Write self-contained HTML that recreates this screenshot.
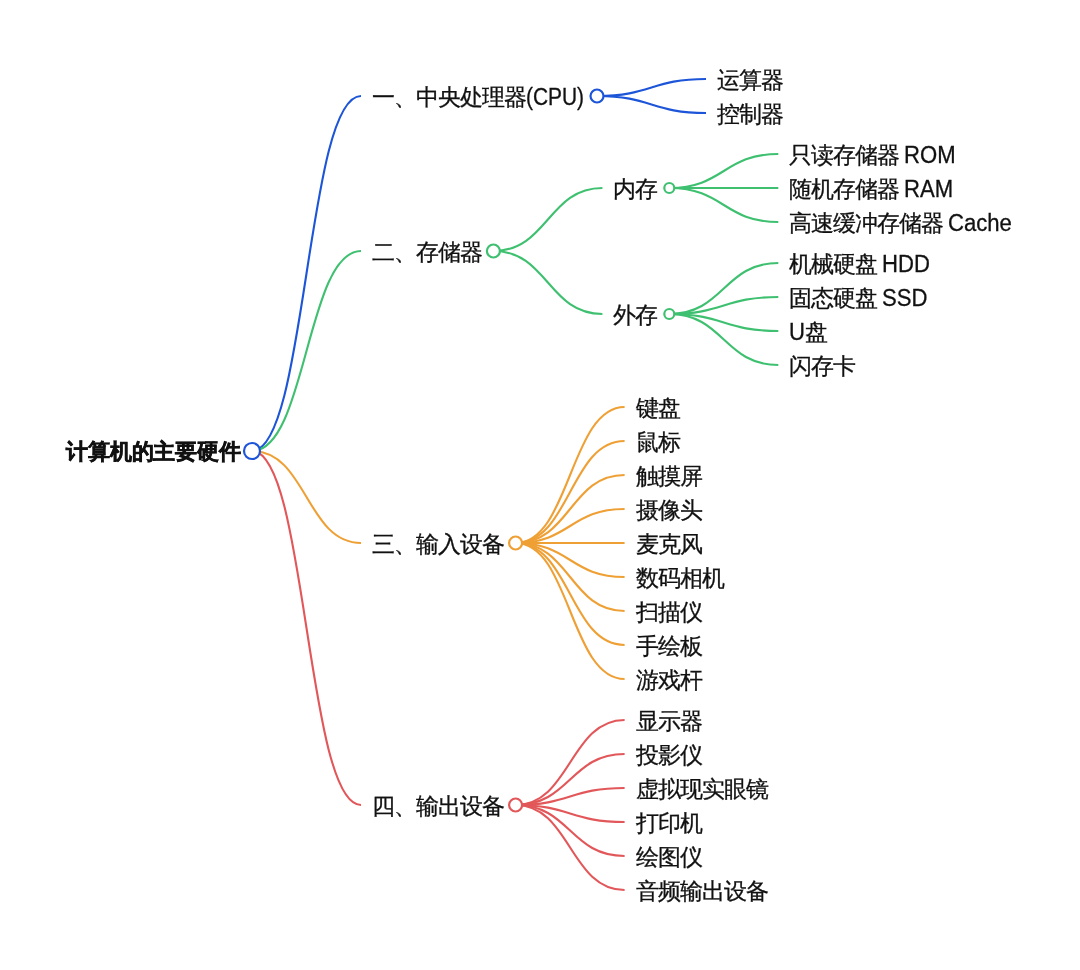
<!DOCTYPE html><html><head><meta charset="utf-8"><style>
html,body{margin:0;padding:0;background:#fff;width:1080px;height:970px;overflow:hidden}
.t{will-change:transform;position:absolute;white-space:nowrap;font-family:"Liberation Sans",sans-serif;font-size:23px;letter-spacing:-1px;line-height:30px;height:30px;color:#111;-webkit-text-stroke:0.3px #111}
.b{font-size:22px;letter-spacing:-0.15px;font-weight:bold;-webkit-text-stroke:0.5px #111}
svg{position:absolute;left:0;top:0}
.l{display:inline-block;font-size:23.5px;letter-spacing:0;transform:scaleX(0.94);transform-origin:0 0}
</style></head><body>
<svg width="1080" height="970" viewBox="0 0 1080 970">
<path d="M252,451 C306.5,451 306.5,96 361,96" fill="none" stroke="#1d55d8" stroke-width="2.1"/>
<path d="M597,96 C651.5,96 651.5,79 706,79" fill="none" stroke="#1d55d8" stroke-width="2.1"/>
<path d="M597,96 C651.5,96 651.5,113 706,113" fill="none" stroke="#1d55d8" stroke-width="2.1"/>
<path d="M252,451 C306.5,451 306.5,251 361,251" fill="none" stroke="#3ec070" stroke-width="2.1"/>
<path d="M493.4,251 C547.9,251 547.9,188 602.4,188" fill="none" stroke="#3ec070" stroke-width="2.1"/>
<path d="M669.3,188 C723.8,188 723.8,154 778.3,154" fill="none" stroke="#3ec070" stroke-width="2.1"/>
<path d="M669.3,188 C723.8,188 723.8,188 778.3,188" fill="none" stroke="#3ec070" stroke-width="2.1"/>
<path d="M669.3,188 C723.8,188 723.8,222 778.3,222" fill="none" stroke="#3ec070" stroke-width="2.1"/>
<path d="M493.4,251 C547.9,251 547.9,314 602.4,314" fill="none" stroke="#3ec070" stroke-width="2.1"/>
<path d="M669.3,314 C723.8,314 723.8,263 778.3,263" fill="none" stroke="#3ec070" stroke-width="2.1"/>
<path d="M669.3,314 C723.8,314 723.8,297 778.3,297" fill="none" stroke="#3ec070" stroke-width="2.1"/>
<path d="M669.3,314 C723.8,314 723.8,331 778.3,331" fill="none" stroke="#3ec070" stroke-width="2.1"/>
<path d="M669.3,314 C723.8,314 723.8,365 778.3,365" fill="none" stroke="#3ec070" stroke-width="2.1"/>
<path d="M252,451 C306.5,451 306.5,543 361,543" fill="none" stroke="#efa035" stroke-width="2.1"/>
<path d="M515.6,543 C570.1,543 570.1,407 624.6,407" fill="none" stroke="#efa035" stroke-width="2.1"/>
<path d="M515.6,543 C570.1,543 570.1,441 624.6,441" fill="none" stroke="#efa035" stroke-width="2.1"/>
<path d="M515.6,543 C570.1,543 570.1,475 624.6,475" fill="none" stroke="#efa035" stroke-width="2.1"/>
<path d="M515.6,543 C570.1,543 570.1,509 624.6,509" fill="none" stroke="#efa035" stroke-width="2.1"/>
<path d="M515.6,543 C570.1,543 570.1,543 624.6,543" fill="none" stroke="#efa035" stroke-width="2.1"/>
<path d="M515.6,543 C570.1,543 570.1,577 624.6,577" fill="none" stroke="#efa035" stroke-width="2.1"/>
<path d="M515.6,543 C570.1,543 570.1,611 624.6,611" fill="none" stroke="#efa035" stroke-width="2.1"/>
<path d="M515.6,543 C570.1,543 570.1,645 624.6,645" fill="none" stroke="#efa035" stroke-width="2.1"/>
<path d="M515.6,543 C570.1,543 570.1,679 624.6,679" fill="none" stroke="#efa035" stroke-width="2.1"/>
<path d="M252,451 C306.5,451 306.5,805 361,805" fill="none" stroke="#e25759" stroke-width="2.1"/>
<path d="M515.6,805 C570.1,805 570.1,720 624.6,720" fill="none" stroke="#e25759" stroke-width="2.1"/>
<path d="M515.6,805 C570.1,805 570.1,754 624.6,754" fill="none" stroke="#e25759" stroke-width="2.1"/>
<path d="M515.6,805 C570.1,805 570.1,788 624.6,788" fill="none" stroke="#e25759" stroke-width="2.1"/>
<path d="M515.6,805 C570.1,805 570.1,822 624.6,822" fill="none" stroke="#e25759" stroke-width="2.1"/>
<path d="M515.6,805 C570.1,805 570.1,856 624.6,856" fill="none" stroke="#e25759" stroke-width="2.1"/>
<path d="M515.6,805 C570.1,805 570.1,890 624.6,890" fill="none" stroke="#e25759" stroke-width="2.1"/>
<circle cx="597" cy="96" r="6.5" fill="#fff" stroke="#1d55d8" stroke-width="2.2"/>
<circle cx="669.3" cy="188" r="5" fill="#fff" stroke="#3ec070" stroke-width="2.2"/>
<circle cx="669.3" cy="314" r="5" fill="#fff" stroke="#3ec070" stroke-width="2.2"/>
<circle cx="493.4" cy="251" r="6.5" fill="#fff" stroke="#3ec070" stroke-width="2.2"/>
<circle cx="515.6" cy="543" r="6.5" fill="#fff" stroke="#efa035" stroke-width="2.2"/>
<circle cx="515.6" cy="805" r="6.5" fill="#fff" stroke="#e25759" stroke-width="2.2"/>
<circle cx="252" cy="451" r="8" fill="#fff" stroke="#1d55d8" stroke-width="2.2"/>
</svg>
<div class="t b" style="left:66px;top:436.5px">计算机的主要硬件</div>
<div class="t" style="left:372px;top:81.5px">一、中央处理器<span class="l" style="transform:scaleX(0.89)">(CPU)</span></div>
<div class="t" style="left:717px;top:64.5px">运算器</div>
<div class="t" style="left:717px;top:98.5px">控制器</div>
<div class="t" style="left:372px;top:236.5px">二、存储器</div>
<div class="t" style="left:613.4px;top:173.5px">内存</div>
<div class="t" style="left:789.3px;top:139.5px">只读存储器 <span class="l">ROM</span></div>
<div class="t" style="left:789.3px;top:173.5px">随机存储器 <span class="l">RAM</span></div>
<div class="t" style="left:789.3px;top:207.5px">高速缓冲存储器 <span class="l">Cache</span></div>
<div class="t" style="left:613.4px;top:299.5px">外存</div>
<div class="t" style="left:789.3px;top:248.5px">机械硬盘 <span class="l">HDD</span></div>
<div class="t" style="left:789.3px;top:282.5px">固态硬盘 <span class="l">SSD</span></div>
<div class="t" style="left:789.3px;top:316.5px"><span class="l" style="margin-right:-1px">U</span>盘</div>
<div class="t" style="left:789.3px;top:350.5px">闪存卡</div>
<div class="t" style="left:372px;top:528.5px">三、输入设备</div>
<div class="t" style="left:635.6px;top:392.5px">键盘</div>
<div class="t" style="left:635.6px;top:426.5px">鼠标</div>
<div class="t" style="left:635.6px;top:460.5px">触摸屏</div>
<div class="t" style="left:635.6px;top:494.5px">摄像头</div>
<div class="t" style="left:635.6px;top:528.5px">麦克风</div>
<div class="t" style="left:635.6px;top:562.5px">数码相机</div>
<div class="t" style="left:635.6px;top:596.5px">扫描仪</div>
<div class="t" style="left:635.6px;top:630.5px">手绘板</div>
<div class="t" style="left:635.6px;top:664.5px">游戏杆</div>
<div class="t" style="left:372px;top:790.5px">四、输出设备</div>
<div class="t" style="left:635.6px;top:705.5px">显示器</div>
<div class="t" style="left:635.6px;top:739.5px">投影仪</div>
<div class="t" style="left:635.6px;top:773.5px">虚拟现实眼镜</div>
<div class="t" style="left:635.6px;top:807.5px">打印机</div>
<div class="t" style="left:635.6px;top:841.5px">绘图仪</div>
<div class="t" style="left:635.6px;top:875.5px">音频输出设备</div>
</body></html>
